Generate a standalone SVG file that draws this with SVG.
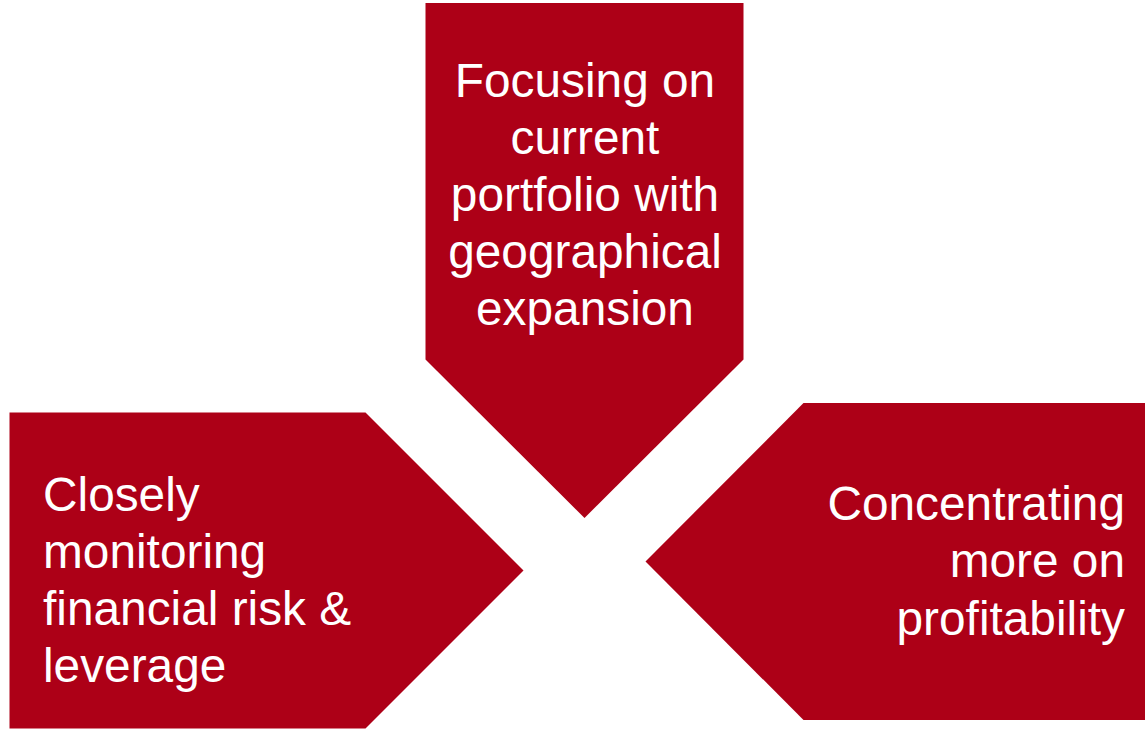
<svg xmlns="http://www.w3.org/2000/svg" width="1145" height="729" viewBox="0 0 1145 729">
  <style>
    .arrow { fill: #AD0017; }
    .label { font-family: "Liberation Sans", Arial, sans-serif; font-size: 47.8px; fill: #FFFFFF; }
    .mid { text-anchor: middle; }
    .end { text-anchor: end; }
  </style>
  <rect width="1145" height="729" fill="#FFFFFF"/>
  <g id="connectors"/>
  <!-- top pentagon pointing down -->
  <g id="node-portfolio">
    <polygon class="arrow" points="425.5,3 743.5,3 743.5,359.5 584.5,518 425.5,359.5"/>
    <text class="label mid" x="585" y="97">Focusing on</text>
    <text class="label mid" x="585" y="154">current</text>
    <text class="label mid" x="585" y="211">portfolio with</text>
    <text class="label mid" x="585" y="268">geographical</text>
    <text class="label mid" x="585" y="325">expansion</text>
  </g>
  <!-- left pentagon pointing right -->
  <g id="node-risk">
    <polygon class="arrow" points="9.5,412.5 365.5,412.5 523.5,570.5 365.5,728.5 9.5,728.5"/>
    <text class="label" x="43" y="511">Closely</text>
    <text class="label" x="43" y="568">monitoring</text>
    <text class="label" x="43" y="625">financial risk &amp;</text>
    <text class="label" x="43" y="682">leverage</text>
  </g>
  <!-- right pentagon pointing left -->
  <g id="node-profitability">
    <polygon class="arrow" points="1145,403 803.5,403 645.5,561.5 803.5,720 1145,720"/>
    <text class="label end" x="1125" y="520">Concentrating</text>
    <text class="label end" x="1125" y="577">more on</text>
    <text class="label end" x="1125" y="635">profitability</text>
  </g>
</svg>
